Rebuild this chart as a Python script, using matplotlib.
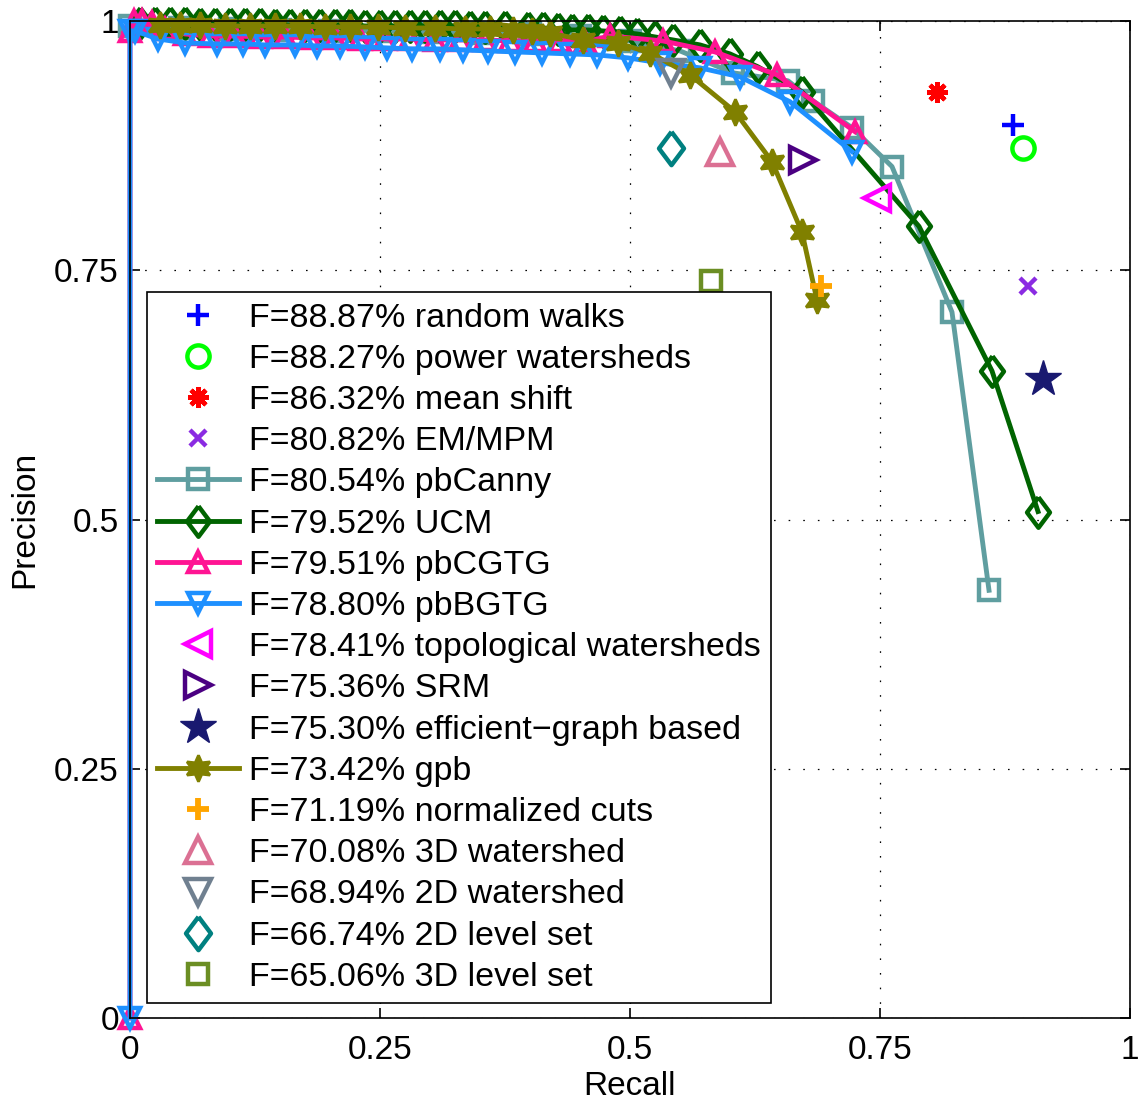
import numpy as np
import matplotlib
matplotlib.use("Agg")
import matplotlib.pyplot as plt

plt.rcParams['font.family'] = ['Liberation Sans', 'DejaVu Sans']

# ---- curves (recall, precision) ----
ucm_recall = [0.01, 0.025, 0.04, 0.055, 0.07, 0.085, 0.10, 0.115, 0.13, 0.145,
              0.16, 0.175, 0.19, 0.205, 0.22, 0.235, 0.25, 0.265, 0.28, 0.295,
              0.31, 0.325, 0.34, 0.355, 0.375, 0.398, 0.413, 0.428, 0.442, 0.458,
              0.473, 0.49, 0.507, 0.525, 0.543, 0.57, 0.60, 0.628, 0.672, 0.789,
              0.862, 0.908]
ucm_prec = [0.998, 0.998, 0.998, 0.998, 0.997, 0.997, 0.997, 0.997, 0.997, 0.996,
            0.996, 0.996, 0.996, 0.996, 0.996, 0.995, 0.995, 0.995, 0.995, 0.995,
            0.995, 0.995, 0.994, 0.994, 0.994, 0.993, 0.993, 0.992, 0.991, 0.991,
            0.990, 0.989, 0.987, 0.984, 0.981, 0.976, 0.967, 0.954, 0.929, 0.794,
            0.649, 0.508]

canny_recall = [0.0, 0.05, 0.10, 0.15, 0.20, 0.25, 0.30, 0.35, 0.40, 0.45,
                0.50, 0.55, 0.603, 0.658, 0.683, 0.722, 0.762, 0.822, 0.859]
canny_prec = [0.995, 0.993, 0.992, 0.991, 0.990, 0.990, 0.989, 0.988, 0.987, 0.985,
              0.980, 0.970, 0.948, 0.940, 0.920, 0.893, 0.854, 0.708, 0.429]

cgtg_recall = [0.0, 0.0, 0.004, 0.012, 0.022, 0.035, 0.055, 0.08, 0.105, 0.13,
               0.155, 0.18, 0.205, 0.23, 0.255, 0.28, 0.305, 0.33, 0.355, 0.38,
               0.405, 0.43, 0.455, 0.48, 0.533, 0.585, 0.647, 0.725]
cgtg_prec = [0.0, 0.99, 1.0, 1.0, 0.998, 0.992, 0.987, 0.985, 0.985, 0.984,
             0.984, 0.983, 0.983, 0.982, 0.982, 0.982, 0.981, 0.981, 0.981, 0.980,
             0.980, 0.980, 0.979, 0.985, 0.980, 0.969, 0.946, 0.889]

bgtg_recall = [0.0, 0.0, 0.005, 0.028, 0.055, 0.087, 0.113, 0.135, 0.165, 0.187,
               0.21, 0.235, 0.257, 0.282, 0.31, 0.333, 0.358, 0.385, 0.412, 0.44,
               0.467, 0.498, 0.53, 0.57, 0.61, 0.66, 0.722]
bgtg_prec = [0.0, 0.99, 0.99, 0.982, 0.978, 0.977, 0.977, 0.976, 0.976, 0.975,
             0.975, 0.974, 0.973, 0.972, 0.972, 0.971, 0.970, 0.969, 0.968, 0.967,
             0.966, 0.963, 0.958, 0.953, 0.944, 0.919, 0.869]

gpb_recall = [0.03, 0.05, 0.07, 0.095, 0.12, 0.145, 0.17, 0.195, 0.22, 0.248,
              0.275, 0.305, 0.335, 0.36, 0.383, 0.402, 0.42, 0.453, 0.488, 0.52,
              0.56, 0.605, 0.642, 0.672, 0.687]
gpb_prec = [0.996, 0.996, 0.996, 0.995, 0.995, 0.995, 0.995, 0.994, 0.994, 0.994,
            0.993, 0.993, 0.992, 0.992, 0.991, 0.990, 0.988, 0.981, 0.978, 0.968,
            0.946, 0.909, 0.859, 0.788, 0.720]

# ---- single operating points ----
rw_pt = (0.883, 0.896)
pw_pt = (0.893, 0.873)
ms_pt = (0.807, 0.929)
em_pt = (0.898, 0.734)
topo_pt = (0.747, 0.822)
srm_pt = (0.673, 0.861)
egb_pt = (0.913, 0.641)
ncut_pt = (0.691, 0.734)
ws3d_pt = (0.590, 0.869)
ws2d_pt = (0.541, 0.948)
ls2d_pt = (0.541, 0.873)
ls3d_pt = (0.581, 0.739)

labels = ['F=88.87% random walks', 'F=88.27% power watersheds', 'F=86.32% mean shift',
          'F=80.82% EM/MPM', 'F=80.54% pbCanny', 'F=79.52% UCM', 'F=79.51% pbCGTG',
          'F=78.80% pbBGTG', 'F=78.41% topological watersheds', 'F=75.36% SRM',
          'F=75.30% efficient\u2212graph based', 'F=73.42% gpb',
          'F=71.19% normalized cuts', 'F=70.08% 3D watershed', 'F=68.94% 2D watershed',
          'F=66.74% 2D level set', 'F=65.06% 3D level set']

diamond = [(0, 1), (0.75, 0), (0, -1), (-0.75, 0), (0, 1)]
hexstar = (6, 1, 0)
lw = 3.5
mew = 3.2
fs = 24

fig = plt.figure(figsize=(11.38, 11.04), dpi=100)
ax = fig.add_axes([130/1138, 86/1104, 1000/1138, 997/1104])

def pt(p, **kw):
    return ax.plot([p[0]], [p[1]], linestyle='none', clip_on=False, **kw)[0]

def curve(r, p, **kw):
    return ax.plot(r, p, linewidth=lw, clip_on=False, **kw)[0]

pt(rw_pt, marker='+', color='blue', ms=16, mew=mew, label=labels[0])
pt(pw_pt, marker='o', color='lime', mfc='none', ms=16, mew=mew, label=labels[1])
pt(ms_pt, marker=(8, 2, 0), color='red', ms=15, mew=mew, label=labels[2])
pt(em_pt, marker='x', color='blueviolet', ms=11, mew=mew, label=labels[3])
curve(canny_recall, canny_prec, color='cadetblue', marker='s', mfc='none', ms=14, mew=mew, label=labels[4])
curve(ucm_recall, ucm_prec, color='darkgreen', marker=diamond, mfc='none', ms=22, mew=mew, label=labels[5])
curve(cgtg_recall, cgtg_prec, color='deeppink', marker='^', mfc='none', ms=14, mew=mew, label=labels[6])
curve(bgtg_recall, bgtg_prec, color='dodgerblue', marker='v', mfc='none', ms=14, mew=mew, label=labels[7])
pt(topo_pt, marker='<', color='magenta', mfc='none', ms=19, mew=mew, label=labels[8])
pt(srm_pt, marker='>', color='indigo', mfc='none', ms=19, mew=mew, label=labels[9])
pt(egb_pt, marker='*', color='midnightblue', ms=27, mew=1, label=labels[10])
curve(gpb_recall, gpb_prec, color='olive', marker=hexstar, mfc='olive', ms=19, mew=2, label=labels[11])
pt(ncut_pt, marker='+', color='orange', ms=16, mew=mew + 1, label=labels[12])
pt(ws3d_pt, marker='^', color='palevioletred', mfc='none', ms=19, mew=mew, label=labels[13])
pt(ws2d_pt, marker='v', color='slategray', mfc='none', ms=19, mew=mew, label=labels[14])
pt(ls2d_pt, marker=diamond, color='teal', mfc='none', ms=24, mew=mew, label=labels[15])
pt(ls3d_pt, marker='s', color='olivedrab', mfc='none', ms=14, mew=mew, label=labels[16])

ticks = [0, 0.25, 0.5, 0.75, 1]
ticklabels = ['0', '0.25', '0.5', '0.75', '1']
ax.set_xlim(0, 1)
ax.set_ylim(0, 1)
ax.set_xticks(ticks)
ax.set_xticklabels(ticklabels)
ax.set_yticks(ticks)
ax.set_yticklabels(ticklabels)
ax.tick_params(direction='in', top=True, right=True, length=7, width=1.2,
               labelsize=fs, pad=8)
ax.tick_params(axis='x', pad=12)
ax.grid(True, color='black', linestyle=(0, (1.3, 10.4)), linewidth=0.9)
for s in ax.spines.values():
    s.set_linewidth(1.2)
ax.set_xlabel('Recall', fontsize=fs, labelpad=4)
ax.set_ylabel('Precision', fontsize=fs, labelpad=10)

leg = ax.legend(loc='lower left', bbox_to_anchor=(0.017, 0.015), borderaxespad=0,
                prop={'size': 24.5}, frameon=True, fancybox=False, shadow=False,
                edgecolor='black', framealpha=1, handlelength=2.4,
                handletextpad=0.3, labelspacing=0.3, borderpad=0.3)
leg.get_frame().set_linewidth(1.2)

fig.savefig('out.png', dpi=100)
